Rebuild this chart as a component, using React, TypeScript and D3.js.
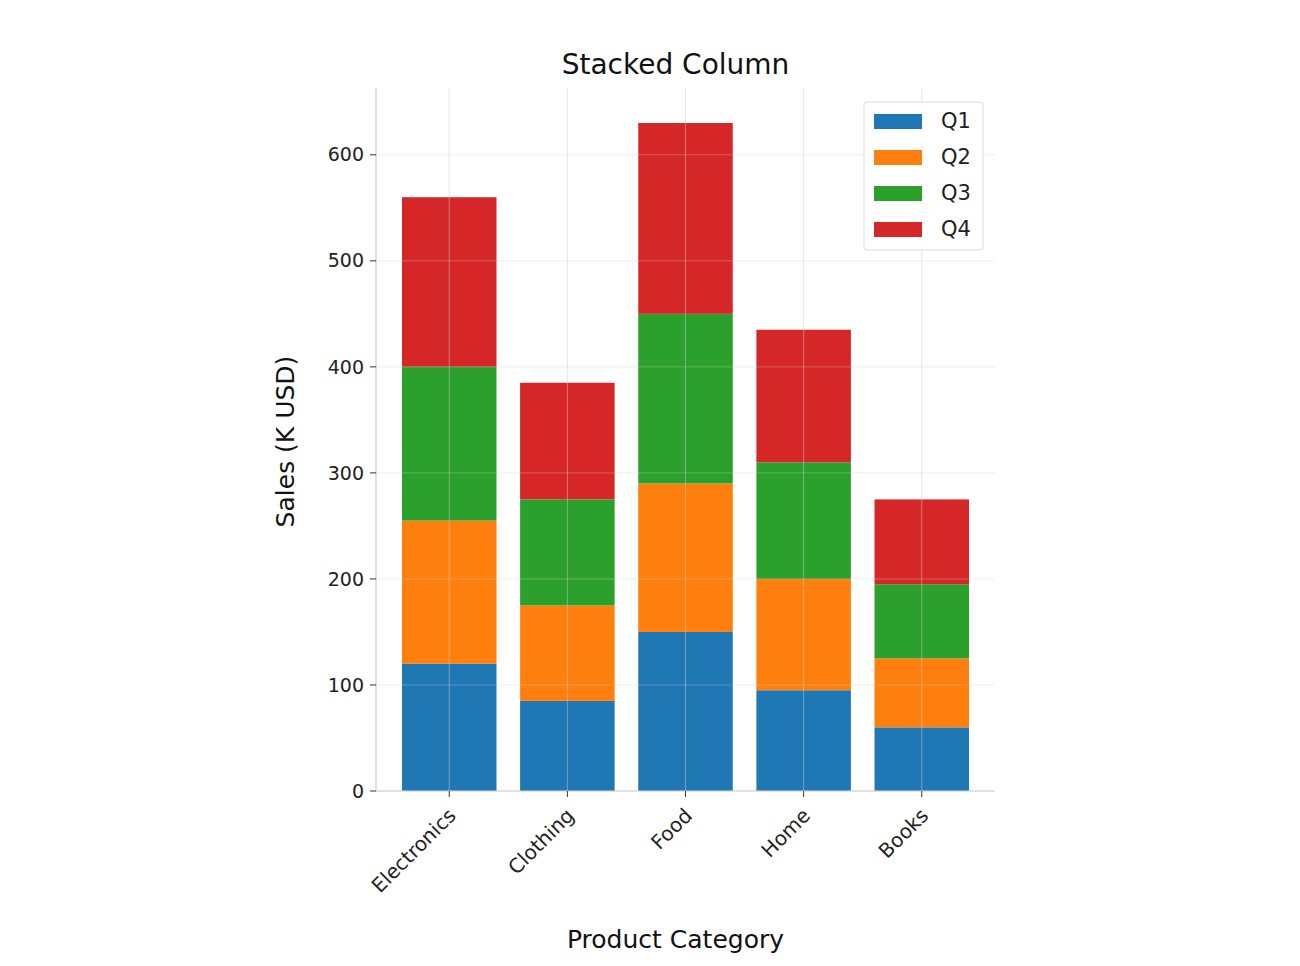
import React from "react";
import * as d3 from "d3";

const categories = ["Electronics", "Clothing", "Food", "Home", "Books"];
const quarters = ["Q1", "Q2", "Q3", "Q4"];
const q1 = [120, 85, 150, 95, 60];
const q2 = [135, 90, 140, 105, 65];
const q3 = [145, 100, 160, 110, 70];
const q4 = [160, 110, 180, 125, 80];
const colors = ["#1f77b4", "#ff7f0e", "#2ca02c", "#d62728"];
const yTicks = [0, 100, 200, 300, 400, 500, 600];

const font = "DejaVu Sans, sans-serif";

const App = () => {
  const left = 376, right = 995, top = 88, bottom = 791;
  const rows = categories.map((c, i) => ({ cat: c, Q1: q1[i], Q2: q2[i], Q3: q3[i], Q4: q4[i] }));
  const stacked = d3.stack<any>().keys(quarters)(rows);
  const y = d3.scaleLinear().domain([0, 663]).range([bottom, top]);
  const x = d3.scaleBand().domain(categories).range([left, right]).paddingInner(0.2).paddingOuter(0.22);
  const bw = x.bandwidth();
  const cx = (c: string) => x(c)! + bw / 2;

  return (
    <svg width={1300} height={966} style={{ display: "block", background: "#fff", position: "absolute", left: 0, top: 0 }}>
      {stacked.map((s, si) => (
        <g key={s.key} fill={colors[si]}>
          {s.map((d, i) => (
            <rect key={i} x={x(categories[i])} width={bw} y={y(d[1])} height={y(d[0]) - y(d[1])} />
          ))}
        </g>
      ))}
      {/* grid */}
      {yTicks.map(t => (
        <line key={t} x1={left} x2={right} y1={y(t)} y2={y(t)} stroke="#ccc" strokeOpacity={0.35} />
      ))}
      {categories.map(c => (
        <line key={c} x1={cx(c)} x2={cx(c)} y1={top} y2={bottom} stroke="#ccc" strokeOpacity={0.5} />
      ))}
      {/* spines */}
      <line x1={left} x2={left} y1={top} y2={bottom} stroke="#ccc" strokeWidth={1.2} />
      <line x1={left} x2={right} y1={bottom} y2={bottom} stroke="#ccc" strokeWidth={1.2} />
      {yTicks.map(t => (
        <g key={t}>
          <line x1={left - 6} x2={left} y1={y(t)} y2={y(t)} stroke="#333" />
          <text x={left - 12} y={y(t)} dy="0.35em" textAnchor="end" fontFamily={font} fontSize={19} fill="#222">{t}</text>
        </g>
      ))}
      {categories.map(c => (
        <g key={c}>
          <line x1={cx(c)} x2={cx(c)} y1={bottom} y2={bottom + 6} stroke="#333" />
          <text transform={`translate(${cx(c) - 2},${bottom + 16}) rotate(-45)`} textAnchor="end" dy="0.7em"
            fontFamily={font} fontSize={20} fill="#222">{c}</text>
        </g>
      ))}
      <text x={(left + right) / 2 - 10} y={74} textAnchor="middle" fontFamily={font} fontSize={28} fill="#111">Stacked Column</text>
      <text x={(left + right) / 2 - 10} y={948} textAnchor="middle" fontFamily={font} fontSize={25} fill="#111">Product Category</text>
      <text transform={`translate(294,${(top + bottom) / 2 + 2}) rotate(-90)`} textAnchor="middle" fontFamily={font} fontSize={25} fill="#111">Sales (K USD)</text>
      {/* legend */}
      <rect x={864} y={102} width={119} height={148} rx={3} fill="#fff" fillOpacity={0.85} stroke="#ddd" />
      {quarters.map((q, i) => (
        <g key={q} transform={`translate(874,${121 + i * 36})`}>
          <rect x={0} y={-7} width={48} height={15} fill={colors[i]} />
          <text x={67} y={0} dy="0.35em" fontFamily={font} fontSize={21} fill="#222">{q}</text>
        </g>
      ))}
    </svg>
  );
};

export default App;
